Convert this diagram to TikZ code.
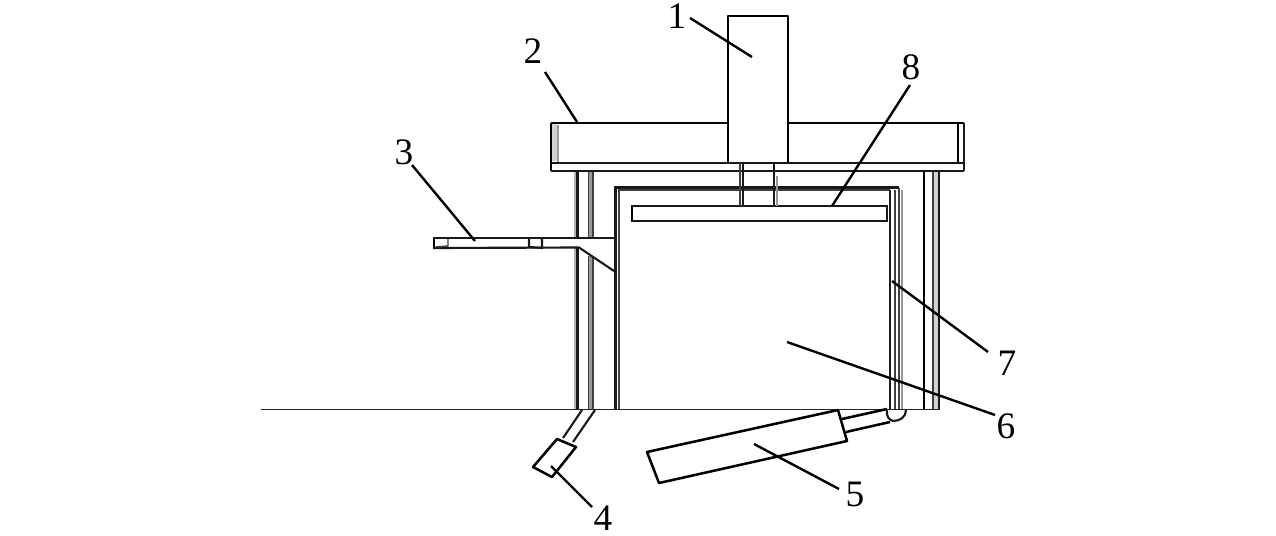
\documentclass[tikz,border=0pt]{standalone}
\usepackage{fontspec}
\setmainfont{Liberation Serif}
\tikzset{
 thick line/.style={line width=2.2pt,black},
 mid line/.style={line width=1.6pt,black!90},
 thin line/.style={line width=1.1pt,black!75},
 gray line/.style={line width=1.2pt,black!40},
 ground line/.style={line width=1.1pt,black!85},
 leader/.style={line width=1.8pt,black},
 outline/.style={line width=1.9pt,black,line join=round},
 num/.style={inner sep=0pt,font=\fontsize{28}{28}\selectfont}
}
\begin{document}
\begin{tikzpicture}[x=0.75pt,y=-0.75pt]
\useasboundingbox (0,0) rectangle (1276,535);
% ground
\draw[ground line] (261,409.5) -- (940,409.5);
% top beam
\fill[black!18] (552,124) rectangle (557,161);
\draw[thick line] (551,123) -- (964,123);
\draw[thick line] (551,123) -- (551,171);
\draw[mid line] (964,123) -- (964,171);
\draw[mid line] (551,163) -- (964,163);
\draw[mid line] (551,171) -- (964,171);
\draw[gray line] (558,125) -- (558,162);
\draw[thick line] (958,124) -- (958,162);
% left wall
\foreach \ya/\yb in {172/238,248/409} {
 \draw[line width=1pt,black!30] (575,\ya) -- (575,\yb);
 \draw[mid line] (577.5,\ya) -- (577.5,\yb);
}
\foreach \ya/\yb in {172/238,256/409} {
 \fill[black!40] (589,\ya) rectangle (592,\yb);
 \draw[thin line] (588.5,\ya) -- (588.5,\yb);
 \draw[thin line] (593,\ya) -- (593,\yb);
}
% right wall
\fill[black!18] (933,172) rectangle (938,409);
\draw[thick line] (924,172) -- (924,409);
\draw[thin line] (933,172) -- (933,409);
\draw[mid line] (939,172) -- (939,409);
% inner box
\draw[mid line] (615.5,409) -- (615.5,187.5) -- (899,187.5);
\draw[thin line] (619,409) -- (619,190) -- (890,190);
\draw[mid line] (890,190) -- (890,409);
\draw[thin line] (895,190) -- (895,409);
\draw[thin line] (899,188) -- (899,409);
\draw[gray line] (902,190) -- (902,409);
% plate 8
\draw[mid line] (632,206) rectangle (887,221);
\draw[thick line] (632,206) -- (632,221);
% column 1 and shaft
\draw[outline,fill=white] (728,162) -- (728,16) -- (788,16) -- (788,162);
\draw[thin line] (740,163) -- (740,206);
\draw[mid line] (743,163) -- (743,206);
\draw[mid line] (774,163) -- (774,206);
\draw[gray line] (777,176) -- (777,206);
% handle 3
\draw[mid line] (433,238) -- (615,238);
\draw[mid line] (433,248) -- (579,247.5) -- (614,271);
\draw[thick line] (434,238) -- (434,248);
\draw[thin line] (448,239) -- (448,246) -- (436,247);
\draw[mid line] (529,239) -- (529,247) -- (542,248) -- (542,239);
% sensor 4
\draw[mid line] (582,410) -- (563,438);
\draw[mid line] (595,410) -- (573,442);
\draw[outline,fill=white] (557,439) -- (576,447) -- (552,477) -- (533,467) -- cycle;
% cylinder 5
\draw[outline] (842,419) -- (887,409);
\draw[outline] (846,432) -- (890,422);
\draw[outline] (647,452) -- (838,410) -- (847,441) -- (659,483) -- cycle;
% knob
\draw[mid line] (887,410) .. controls (886,416) and (889,420) .. (893,421) .. controls (900,421) and (906,417) .. (906,410);
% labels
\node[num] (n1) at (677,16) {1};
\node[num] (n2) at (533,51) {2};
\node[num] (n3) at (404,152) {3};
\node[num] (n4) at (603,518) {4};
\node[num] (n5) at (855,494) {5};
\node[num] (n6) at (1006,426) {6};
\node[num] (n7) at (1007,363) {7};
\node[num] (n8) at (911,67) {8};
% leader ends
\coordinate (e1a) at (690,18); \coordinate (e1) at (752,57);
\coordinate (e2a) at (545,72); \coordinate (e2) at (577,122);
\coordinate (e3a) at (412,165); \coordinate (e3) at (475,241);
\coordinate (e4a) at (592,507); \coordinate (e4) at (551,466);
\coordinate (e5a) at (839,489); \coordinate (e5) at (754,444);
\coordinate (e6a) at (995,415); \coordinate (e6) at (787,342);
\coordinate (e7a) at (988,352); \coordinate (e7) at (892,281);
\coordinate (e8a) at (910,85); \coordinate (e8) at (832,206);
\foreach \i in {1,...,8} \draw[leader] (e\i a) -- (e\i);
\end{tikzpicture}
\end{document}
